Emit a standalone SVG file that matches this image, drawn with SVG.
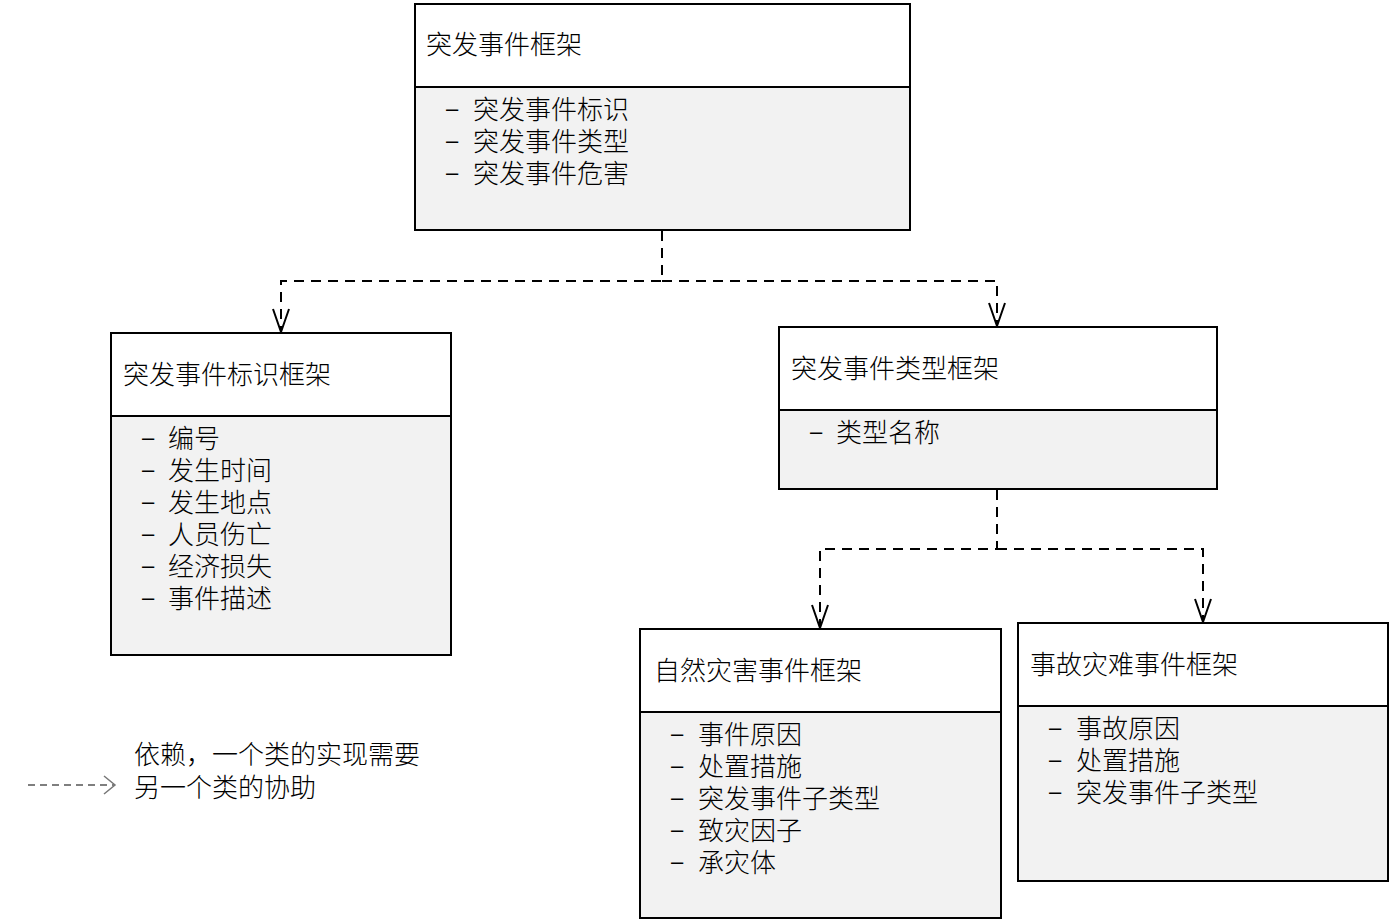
<svg xmlns="http://www.w3.org/2000/svg" width="1392" height="923" viewBox="0 0 1392 923">
<defs>
<style>
.box{fill:#f2f2f2;stroke:#000;stroke-width:2}
.head{fill:#fff;stroke:#000;stroke-width:2}
text{font-family:"Liberation Sans","Noto Sans CJK SC",sans-serif;font-size:26px;font-weight:300;fill:#000}
text.d{font-size:22px}
.conn{fill:none;stroke:#000;stroke-width:2;stroke-dasharray:10,7}
.ah{fill:none;stroke:#000;stroke-width:2}
</style>
</defs>
<rect width="1392" height="923" fill="#fff"/>
<g id="connectors">
<path class="conn" d="M662,231 V281 H281 V331"/>
<path class="conn" d="M662,281 H997 V325"/>
<path class="ah" d="M273,309 L281,332 L289,309"/>
<path class="ah" d="M989,303 L997,326 L1005,303"/>
<path class="conn" d="M997,490 V549 H820 V627"/>
<path class="conn" d="M997,549 H1203 V621"/>
<path class="ah" d="M812,605 L820,628 L828,605"/>
<path class="ah" d="M1195,599 L1203,622 L1211,599"/>
</g>
<g id="n_event">
<rect class="box" x="415" y="4" width="495" height="226"/>
<rect class="head" x="415" y="4" width="495" height="83"/>
<text x="426" y="54">突发事件框架</text>
<text class="d" x="446" y="116">–</text><text x="473" y="119">突发事件标识</text>
<text class="d" x="446" y="148">–</text><text x="473" y="151">突发事件类型</text>
<text class="d" x="446" y="180">–</text><text x="473" y="183">突发事件危害</text>
</g>
<g id="n_id">
<rect class="box" x="111" y="333" width="340" height="322"/>
<rect class="head" x="111" y="333" width="340" height="83"/>
<text x="123" y="384">突发事件标识框架</text>
<text class="d" x="142" y="445">–</text><text x="168" y="448">编号</text>
<text class="d" x="142" y="477">–</text><text x="168" y="480">发生时间</text>
<text class="d" x="142" y="509">–</text><text x="168" y="512">发生地点</text>
<text class="d" x="142" y="541">–</text><text x="168" y="544">人员伤亡</text>
<text class="d" x="142" y="573">–</text><text x="168" y="576">经济损失</text>
<text class="d" x="142" y="605">–</text><text x="168" y="608">事件描述</text>
</g>
<g id="n_type">
<rect class="box" x="779" y="327" width="438" height="162"/>
<rect class="head" x="779" y="327" width="438" height="83"/>
<text x="791" y="378">突发事件类型框架</text>
<text class="d" x="810" y="439">–</text><text x="836" y="442">类型名称</text>
</g>
<g id="n_natural">
<rect class="box" x="640" y="629" width="361" height="289"/>
<rect class="head" x="640" y="629" width="361" height="83"/>
<text x="654" y="680">自然灾害事件框架</text>
<text class="d" x="671" y="741">–</text><text x="698" y="744">事件原因</text>
<text class="d" x="671" y="773">–</text><text x="698" y="776">处置措施</text>
<text class="d" x="671" y="805">–</text><text x="698" y="808">突发事件子类型</text>
<text class="d" x="671" y="837">–</text><text x="698" y="840">致灾因子</text>
<text class="d" x="671" y="869">–</text><text x="698" y="872">承灾体</text>
</g>
<g id="n_accident">
<rect class="box" x="1018" y="623" width="370" height="258"/>
<rect class="head" x="1018" y="623" width="370" height="83"/>
<text x="1030" y="674">事故灾难事件框架</text>
<text class="d" x="1049" y="735">–</text><text x="1076" y="738">事故原因</text>
<text class="d" x="1049" y="767">–</text><text x="1076" y="770">处置措施</text>
<text class="d" x="1049" y="799">–</text><text x="1076" y="802">突发事件子类型</text>
</g>
<g id="legend">
<path d="M28,785 H114" fill="none" stroke="#555" stroke-width="1.5" stroke-dasharray="7,5"/>
<path d="M104,776 L115,785 L104,794" fill="none" stroke="#777" stroke-width="1.5"/>
<text x="134" y="764">依赖，一个类的实现需要</text>
<text x="134" y="797">另一个类的协助</text>
</g>
</svg>
